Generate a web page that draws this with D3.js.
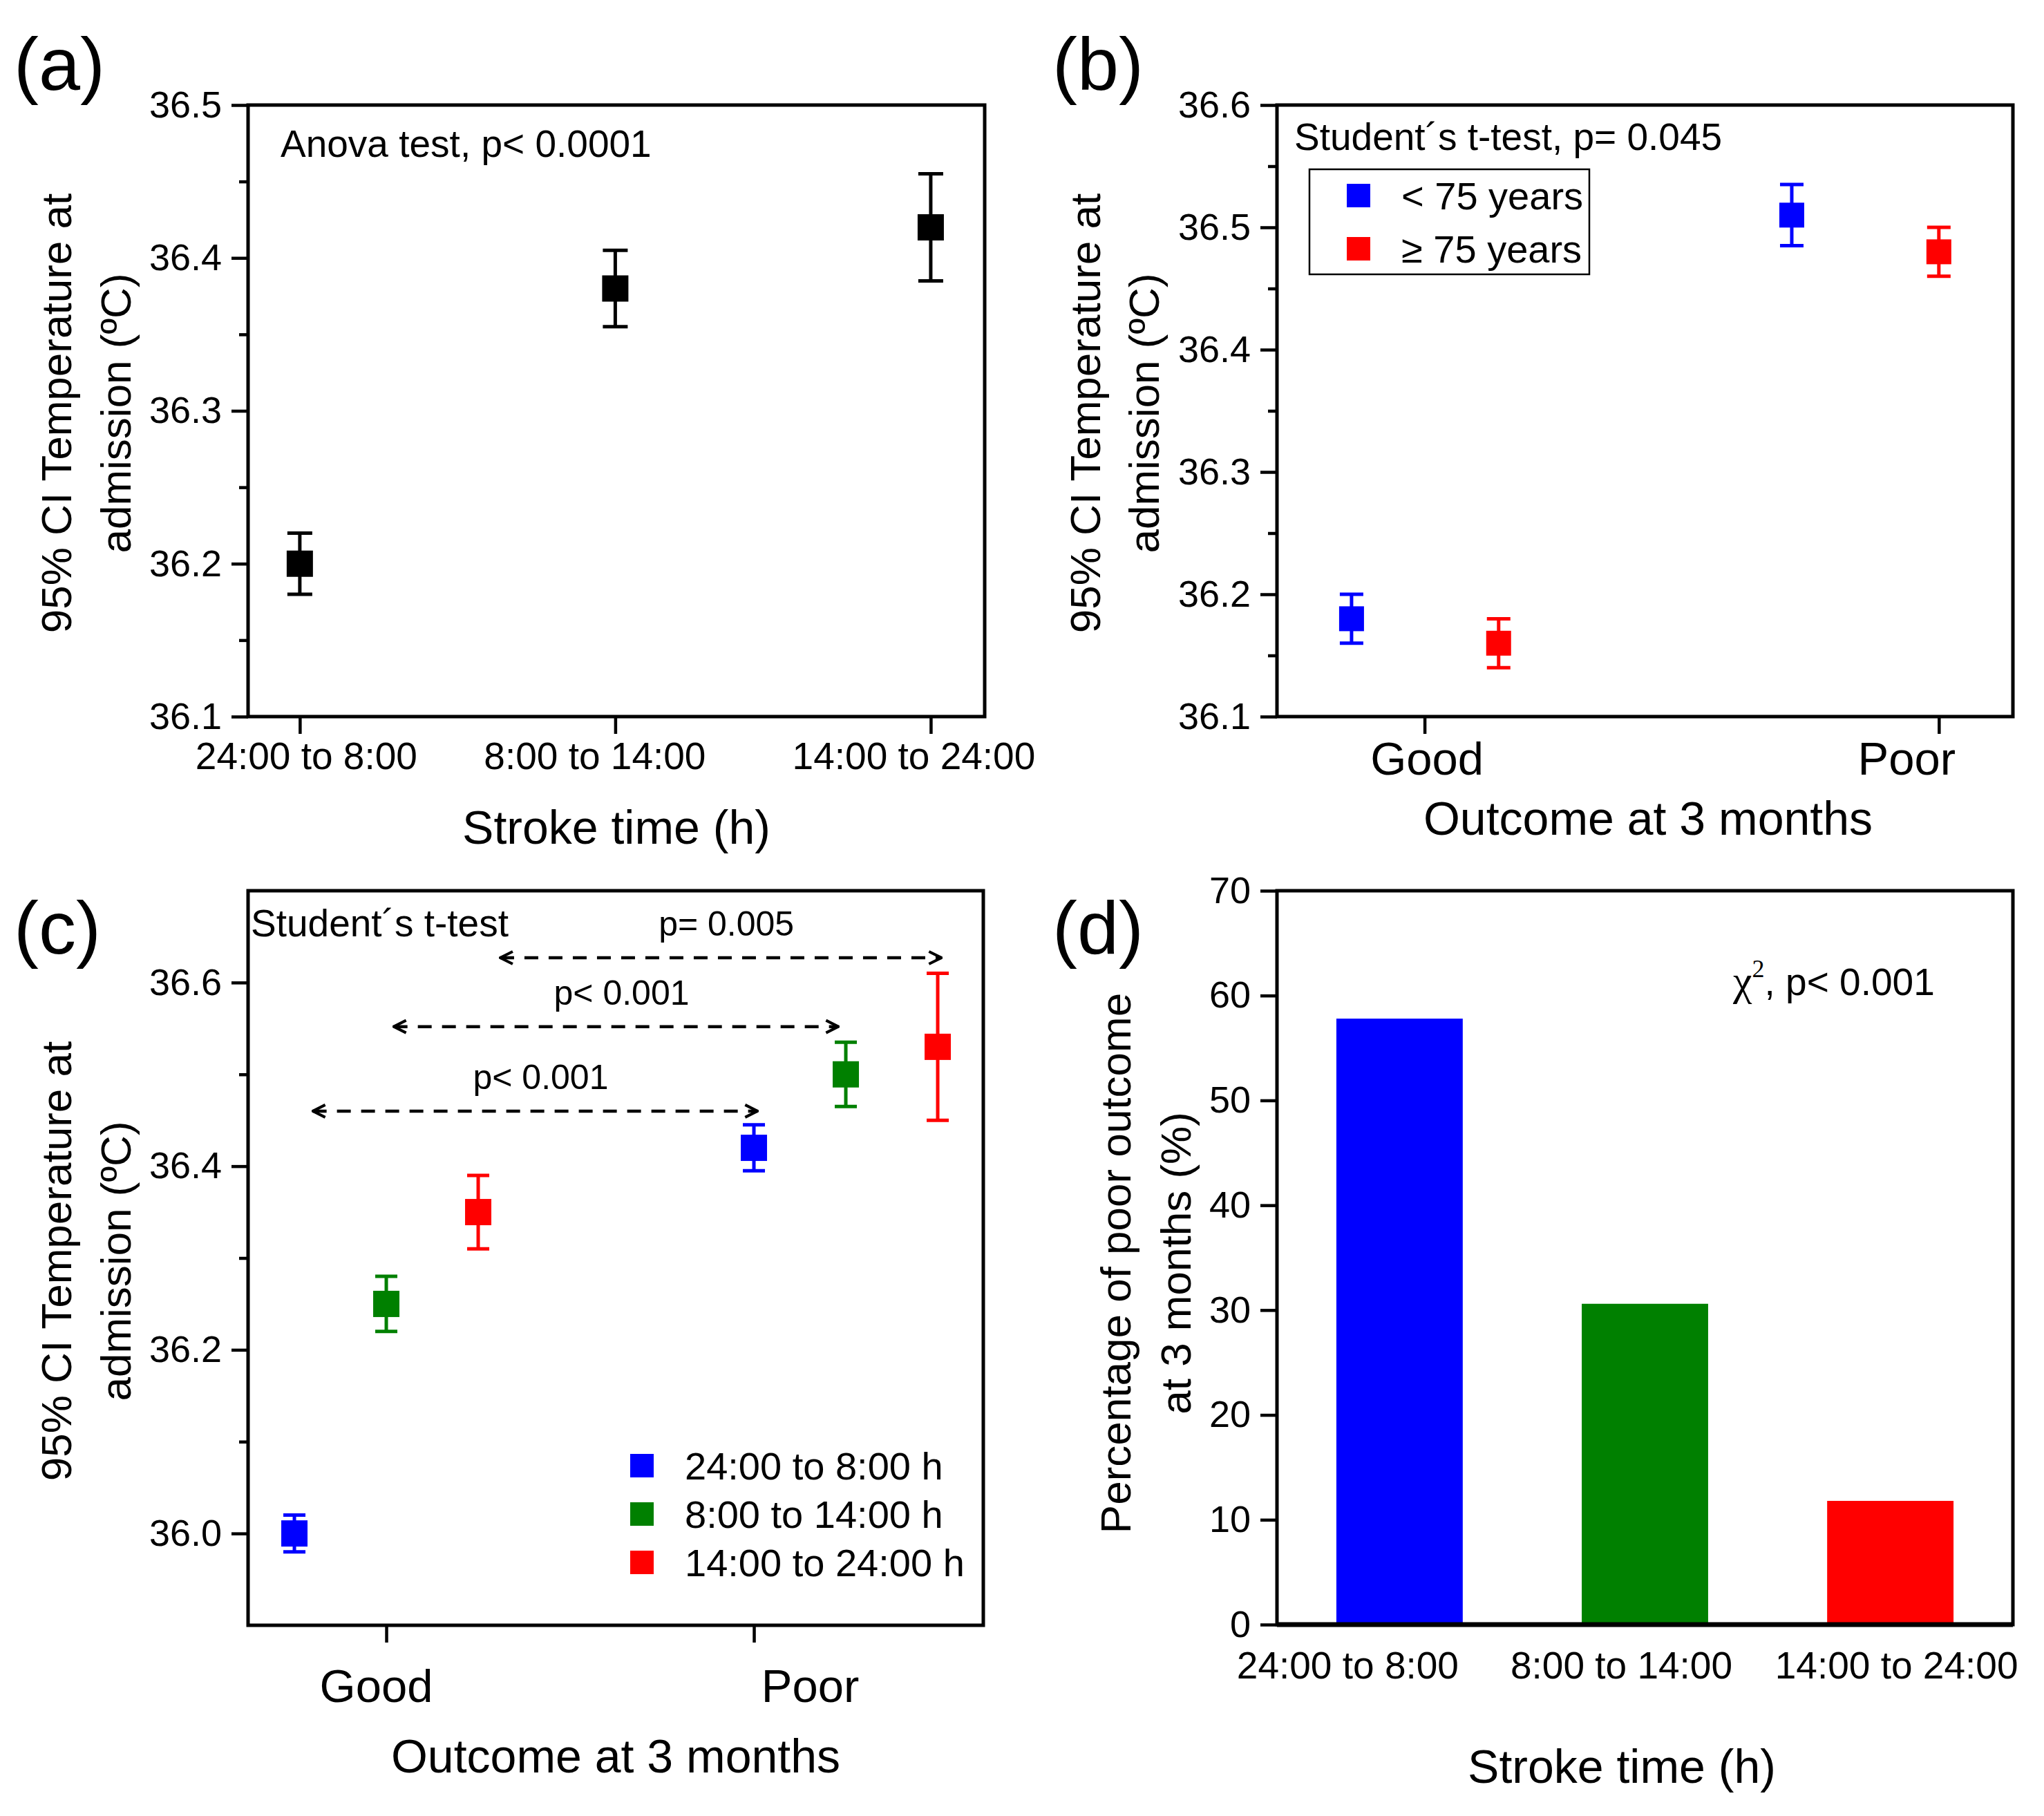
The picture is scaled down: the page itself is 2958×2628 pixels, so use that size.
<!DOCTYPE html>
<html>
<head>
<meta charset="utf-8">
<script src="https://cdn.jsdelivr.net/npm/d3@7"></script>
<style>
  body { margin: 0; background: #fff; }
</style>
</head>
<body>
<script>
// ---------- data ----------
const timeBands = ["24:00 to 8:00", "8:00 to 14:00", "14:00 to 24:00"];
const timeBandsH = ["24:00 to 8:00 h", "8:00 to 14:00 h", "14:00 to 24:00 h"];
const outcomes = ["Good", "Poor"];
const ageGroups = ["< 75 years", "\u2265 75 years"];

// (a) temperature by stroke time
const aMean = [36.20, 36.38, 36.42];
const aLow = [36.18, 36.355, 36.385];
const aHigh = [36.22, 36.405, 36.455];
const aTicks = [36.1, 36.2, 36.3, 36.4, 36.5];

// (b) temperature by outcome and age (x in outcome units: Good = 1, Poor = 2)
const bX = [0.858, 1.144, 1.714, 2.0];
const bGroup = [0, 1, 0, 1];
const bMean = [36.18, 36.16, 36.51, 36.48];
const bLow = [36.16, 36.14, 36.485, 36.46];
const bHigh = [36.20, 36.18, 36.535, 36.50];
const bTicks = [36.1, 36.2, 36.3, 36.4, 36.5, 36.6];

// (c) temperature by outcome and stroke time
const cX = [0.75, 1.0, 1.25, 2.0, 2.25, 2.5];
const cGroup = [0, 1, 2, 0, 1, 2];
const cMean = [36.00, 36.25, 36.35, 36.42, 36.50, 36.53];
const cLow = [35.98, 36.22, 36.31, 36.395, 36.465, 36.45];
const cHigh = [36.02, 36.28, 36.39, 36.445, 36.535, 36.61];
const cTicks = [36.0, 36.2, 36.4, 36.6];
const cMinor = [36.1, 36.3, 36.5];
const cmpLabel = ["p< 0.001", "p< 0.001", "p= 0.005"];
const cmpFrom = [0.80, 1.02, 1.31];
const cmpTo = [2.01, 2.23, 2.51];
const cmpY = [36.46, 36.552, 36.627];

// (d) percentage of poor outcome
const dPct = [57.8, 30.6, 11.8];
const dTicks = [0, 10, 20, 30, 40, 50, 60, 70];

// ---------- setup ----------
const W = 2958, H = 2628;
const FONT = '"Liberation Sans", Arial, sans-serif';
const SERIF = '"Liberation Serif", "Times New Roman", serif';
const groupColor = ["#0000ff", "#008000", "#ff0000"];
const ageColor = ["#0000ff", "#ff0000"];

const svg = d3.select("body").append("svg")
  .attr("width", W).attr("height", H)
  .style("background", "#fff");

function styleAxis(g, size) {
  g.select(".domain").remove();
  g.selectAll(".tick line").attr("stroke", "#000").attr("stroke-width", 4.5);
  g.selectAll(".tick text")
    .attr("font-family", FONT).attr("font-size", size).attr("fill", "#000");
}

function minorOf(ticks) {
  return ticks.slice(1).map((t, i) => (t + ticks[i]) / 2);
}

function yAxis(x0, y, ticks, minor, fmt) {
  const g = svg.append("g").attr("transform", `translate(${x0},0)`)
    .call(d3.axisLeft(y).tickValues(ticks).tickSize(24).tickPadding(14).tickFormat(fmt));
  styleAxis(g, 54);
  if (minor) {
    const m = svg.append("g").attr("transform", `translate(${x0},0)`)
      .call(d3.axisLeft(y).tickValues(minor).tickSize(13).tickFormat(""));
    styleAxis(m, 0);
  }
}

function xAxis(y0, x, ticks, labels, size, tickSize, pad, nudge) {
  const g = svg.append("g").attr("transform", `translate(0,${y0})`)
    .call(d3.axisBottom(x).tickValues(ticks).tickSize(tickSize).tickPadding(pad)
      .tickFormat((d, i) => labels[i]));
  styleAxis(g, size);
  if (nudge) g.selectAll(".tick text").attr("dx", (d, i) => nudge[i]);
}

function frame(x, y) {
  svg.append("rect")
    .attr("x", x.range()[0]).attr("y", y.range()[1])
    .attr("width", x.range()[1] - x.range()[0])
    .attr("height", y.range()[0] - y.range()[1])
    .attr("fill", "none").attr("stroke", "#000").attr("stroke-width", 5);
}

function text(x, y, str, size, anchor) {
  return svg.append("text").attr("x", x).attr("y", y)
    .attr("font-family", FONT).attr("font-size", size)
    .attr("text-anchor", anchor || "start").attr("fill", "#000").text(str);
}

function yTitle(x1, x2, yc, l1, l2) {
  [[x1, l1], [x2, l2]].forEach(([x, s]) => {
    svg.append("text")
      .attr("transform", `translate(${x},${yc}) rotate(-90)`)
      .attr("text-anchor", "middle")
      .attr("font-family", FONT).attr("font-size", 62).attr("fill", "#000")
      .text(s);
  });
}

function errorPoints(x, y, xs, mean, low, high, colors, size, cap) {
  const g = svg.append("g");
  const pts = g.selectAll("g.pt").data(mean).enter().append("g").attr("class", "pt");
  pts.append("line")
    .attr("x1", (d, i) => x(xs[i])).attr("x2", (d, i) => x(xs[i]))
    .attr("y1", (d, i) => y(low[i])).attr("y2", (d, i) => y(high[i]))
    .attr("stroke", (d, i) => colors[i]).attr("stroke-width", 5);
  [low, high].forEach(arr => {
    pts.append("line")
      .attr("x1", (d, i) => x(xs[i]) - cap / 2).attr("x2", (d, i) => x(xs[i]) + cap / 2)
      .attr("y1", (d, i) => y(arr[i])).attr("y2", (d, i) => y(arr[i]))
      .attr("stroke", (d, i) => colors[i]).attr("stroke-width", 5);
  });
  pts.append("rect")
    .attr("x", (d, i) => x(xs[i]) - size / 2)
    .attr("y", d => y(d) - size / 2)
    .attr("width", size).attr("height", size)
    .attr("fill", (d, i) => colors[i]);
}

// ---------- (a) ----------
{
  const x = d3.scaleLinear().domain([0.836, 3.171]).range([359, 1425]);
  const y = d3.scaleLinear().domain([36.1, 36.5]).range([1037, 152]);
  const xs = timeBands.map((d, i) => i + 1);
  yAxis(359, y, aTicks, minorOf(aTicks), d3.format(".1f"));
  xAxis(1037, x, xs, timeBands, 55, 25, 12, [9, -30, -25]);
  errorPoints(x, y, xs, aMean, aLow, aHigh, aMean.map(() => "#000"), 38, 36);
  frame(x, y);
  text(406, 227, "Anova test, p< 0.0001", 55);
  text(892, 1221, "Stroke time (h)", 68, "middle");
  yTitle(103, 189, 598, "95% CI Temperature at", "admission (\u00baC)");
  text(20, 130, "(a)", 108);
}

// ---------- (b) ----------
{
  const x = d3.scaleLinear().domain([0.713, 2.144]).range([1848, 2913]);
  const y = d3.scaleLinear().domain([36.1, 36.6]).range([1037, 152]);
  yAxis(1848, y, bTicks, minorOf(bTicks), d3.format(".1f"));
  xAxis(1037, x, [1, 2], outcomes, 67, 25, 11, [3, -47]);
  errorPoints(x, y, bX, bMean, bLow, bHigh, bGroup.map(g => ageColor[g]), 36, 34);
  frame(x, y);
  text(1873, 217, "Student\u00b4s t-test, p= 0.045", 55);
  // legend
  svg.append("rect").attr("x", 1895).attr("y", 245).attr("width", 405).attr("height", 152)
    .attr("fill", "#fff").attr("stroke", "#000").attr("stroke-width", 2.5);
  ageGroups.forEach((lab, i) => {
    const cy = 283 + i * 77;
    svg.append("rect").attr("x", 1966 - 17).attr("y", cy - 17).attr("width", 34).attr("height", 34)
      .attr("fill", ageColor[i]);
    text(2028, cy, lab, 56).attr("dy", "0.36em");
  });
  text(2385, 1208, "Outcome at 3 months", 68, "middle");
  yTitle(1592, 1677, 598, "95% CI Temperature at", "admission (\u00baC)");
  text(1523, 130, "(b)", 108);
}

// ---------- (c) ----------
{
  const x = d3.scaleLinear().domain([0.624, 2.624]).range([359, 1423]);
  const y = d3.scaleLinear().domain([35.9, 36.7]).range([2352, 1289]);
  yAxis(359, y, cTicks, cMinor, d3.format(".1f"));
  xAxis(2352, x, [1, 2], outcomes, 67, 25, 38, [-15, 81]);

  // comparison arrows
  const defs = svg.append("defs");
  defs.append("marker").attr("id", "chev")
    .attr("viewBox", "0 0 24 24").attr("refX", 22).attr("refY", 12)
    .attr("markerWidth", 24).attr("markerHeight", 24)
    .attr("markerUnits", "userSpaceOnUse")
    .attr("orient", "auto-start-reverse")
    .append("path").attr("d", "M4,3 L22,12 L4,21")
    .attr("fill", "none").attr("stroke", "#000").attr("stroke-width", 4);
  cmpLabel.forEach((lab, i) => {
    svg.append("line")
      .attr("x1", x(cmpFrom[i])).attr("x2", x(cmpTo[i]))
      .attr("y1", y(cmpY[i])).attr("y2", y(cmpY[i]))
      .attr("stroke", "#000").attr("stroke-width", 4.5)
      .attr("stroke-dasharray", "20,15")
      .attr("marker-start", "url(#chev)").attr("marker-end", "url(#chev)");
    text((x(cmpFrom[i]) + x(cmpTo[i])) / 2 + 8, y(cmpY[i]) - 32, lab, 50, "middle");
  });

  errorPoints(x, y, cX, cMean, cLow, cHigh, cGroup.map(g => groupColor[g]), 38, 32);
  frame(x, y);
  text(363, 1355, "Student\u00b4s t-test", 55);
  timeBandsH.forEach((lab, i) => {
    const cy = 2121 + i * 70;
    svg.append("rect").attr("x", 929 - 17).attr("y", cy - 17).attr("width", 34).attr("height", 34)
      .attr("fill", groupColor[i]);
    text(991, cy, lab, 56).attr("dy", "0.36em");
  });
  text(891, 2565, "Outcome at 3 months", 68, "middle");
  yTitle(103, 189, 1825, "95% CI Temperature at", "admission (\u00baC)");
  text(20, 1380, "(c)", 108);
}

// ---------- (d) ----------
{
  const x = d3.scaleBand().domain(timeBands).range([1848, 2913])
    .paddingInner(0.485).paddingOuter(0.242);
  const y = d3.scaleLinear().domain([0, 70]).range([2351, 1289]);
  yAxis(1848, y, dTicks, null, d3.format("d"));
  xAxis(2351, x, timeBands, timeBands, 55, 0, 39, [-75, -34, 9]);
  svg.append("g").selectAll("rect").data(dPct).enter().append("rect")
    .attr("x", (d, i) => x(timeBands[i]))
    .attr("y", d => y(d))
    .attr("width", x.bandwidth())
    .attr("height", d => y(0) - y(d))
    .attr("fill", (d, i) => groupColor[i]);
  svg.append("rect")
    .attr("x", 1848).attr("y", 1289).attr("width", 2913 - 1848).attr("height", 2351 - 1289)
    .attr("fill", "none").attr("stroke", "#000").attr("stroke-width", 5);
  svg.append("line").attr("x1", 1848).attr("x2", 2913).attr("y1", 2351).attr("y2", 2351)
    .attr("stroke", "#000").attr("stroke-width", 7);
  const chi = svg.append("text").attr("x", 2508).attr("y", 1440)
    .attr("font-family", FONT).attr("font-size", 55).attr("fill", "#000");
  chi.append("tspan").attr("font-family", SERIF).attr("font-size", 62).text("\u03c7");
  chi.append("tspan").attr("font-family", SERIF).attr("font-size", 36).attr("dy", -26).text("2");
  chi.append("tspan").attr("dy", 26).text(", p< 0.001");
  text(2347, 2580, "Stroke time (h)", 68, "middle");
  yTitle(1636, 1723, 1828, "Percentage of poor outcome", "at 3 months (%)");
  text(1523, 1380, "(d)", 108);
}
</script>
</body>
</html>
